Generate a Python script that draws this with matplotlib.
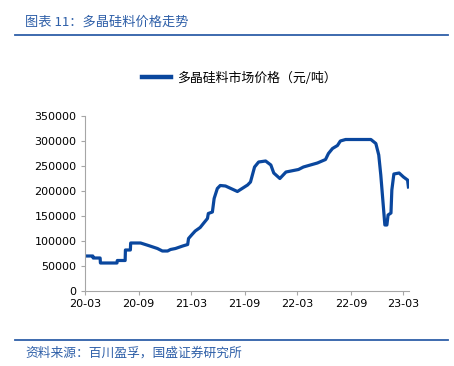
import matplotlib.pyplot as plt
import matplotlib.dates as mdates
import pandas as pd

plt.rcParams['font.family'] = ['Noto Sans CJK SC', 'DejaVu Sans']

# polysilicon market price, yuan/ton
dates = [
    "2020-03-01", "2020-03-28", "2020-03-29", "2020-04-22", "2020-04-23",
    "2020-06-19", "2020-06-20", "2020-07-17", "2020-07-18", "2020-08-04",
    "2020-08-05", "2020-09-08", "2020-10-05", "2020-11-05", "2020-11-22",
    "2020-12-10", "2020-12-20", "2021-01-06", "2021-01-31", "2021-02-17",
    "2021-02-20", "2021-03-04", "2021-03-15", "2021-04-01", "2021-04-12",
    "2021-04-26", "2021-04-29", "2021-05-13", "2021-05-19", "2021-05-30",
    "2021-06-09", "2021-06-27", "2021-08-07", "2021-09-11", "2021-09-21",
    "2021-10-05", "2021-10-19", "2021-11-12", "2021-11-30", "2021-12-10",
    "2021-12-31", "2022-01-21", "2022-03-05", "2022-03-22", "2022-05-09",
    "2022-06-06", "2022-06-16", "2022-06-30", "2022-07-17", "2022-07-27",
    "2022-08-14", "2022-11-09", "2022-11-26", "2022-12-06", "2022-12-13",
    "2022-12-20", "2022-12-27", "2023-01-03", "2023-01-07", "2023-01-17",
    "2023-01-20", "2023-01-27", "2023-02-14", "2023-03-01", "2023-03-15",
    "2023-03-18",
]
prices = [
    70000, 70000, 66000, 66000, 56000,
    56000, 61000, 61000, 82000, 82000,
    96000, 96000, 91000, 85000, 80000,
    80000, 83000, 85000, 90000, 93000,
    105000, 113000, 120000, 127000, 135000,
    145000, 155000, 158000, 185000, 205000,
    211000, 210000, 199000, 212000, 218000,
    248000, 258000, 260000, 252000, 236000,
    225000, 238000, 243000, 248000, 256000,
    263000, 275000, 285000, 291000, 300000,
    303000, 303000, 295000, 272000, 232000,
    182000, 132000, 132000, 152000, 156000,
    202000, 234000, 236000, 228000, 222000,
    208000,
]

title = "图表 11：多晶硅料价格走势"
source = "资料来源：百川盈孚，国盛证券研究所"
legend_label = "多晶硅料市场价格（元/吨）"
blue = "#0a479e"
rule_blue = "#2e5fa8"

x = pd.to_datetime(dates)

fig = plt.figure(figsize=(4.54, 3.66), dpi=100)
ax = fig.add_axes([85 / 454, 1 - 291 / 366, 324 / 454, 175 / 366])
ax.plot(x, prices, color=blue, lw=2.3, label=legend_label,
        solid_joinstyle='round')

ax.set_ylim(0, 350000)
ax.set_yticks(range(0, 350001, 50000))
ax.set_xlim(pd.Timestamp("2020-03-01"), pd.Timestamp("2023-03-20"))
ax.xaxis.set_major_locator(mdates.MonthLocator(bymonth=[3, 9]))
ax.xaxis.set_major_formatter(mdates.DateFormatter("%y-%m"))

for s in ["top", "right"]:
    ax.spines[s].set_visible(False)
for s in ["left", "bottom"]:
    ax.spines[s].set_color("#a6a6a6")
    ax.spines[s].set_linewidth(0.8)
ax.tick_params(length=3, color="#a6a6a6", labelsize=8, labelcolor="black",
               pad=3)
for lab in ax.get_xticklabels() + ax.get_yticklabels():
    lab.set_family("DejaVu Sans")

leg = fig.legend(loc="center", bbox_to_anchor=(239 / 454, 1 - 78 / 366),
                 frameon=False, fontsize=9.3, handlelength=2.3,
                 handletextpad=0.4)
leg.get_lines()[0].set_linewidth(3.2)

fig.text(25 / 454, 1 - 22 / 366, title, color=rule_blue, fontsize=9.5,
         style="italic", va="center", ha="left")
fig.add_artist(plt.Line2D([15 / 454, 448 / 454], [1 - 35 / 366] * 2,
                          color=rule_blue, lw=1.3))
fig.add_artist(plt.Line2D([15 / 454, 448 / 454], [1 - 340 / 366] * 2,
                          color=rule_blue, lw=1.3))
fig.text(25 / 454, 1 - 353 / 366, source, color=rule_blue, fontsize=9.2,
         style="italic", va="center", ha="left")

fig.savefig("out.png", dpi=100)
